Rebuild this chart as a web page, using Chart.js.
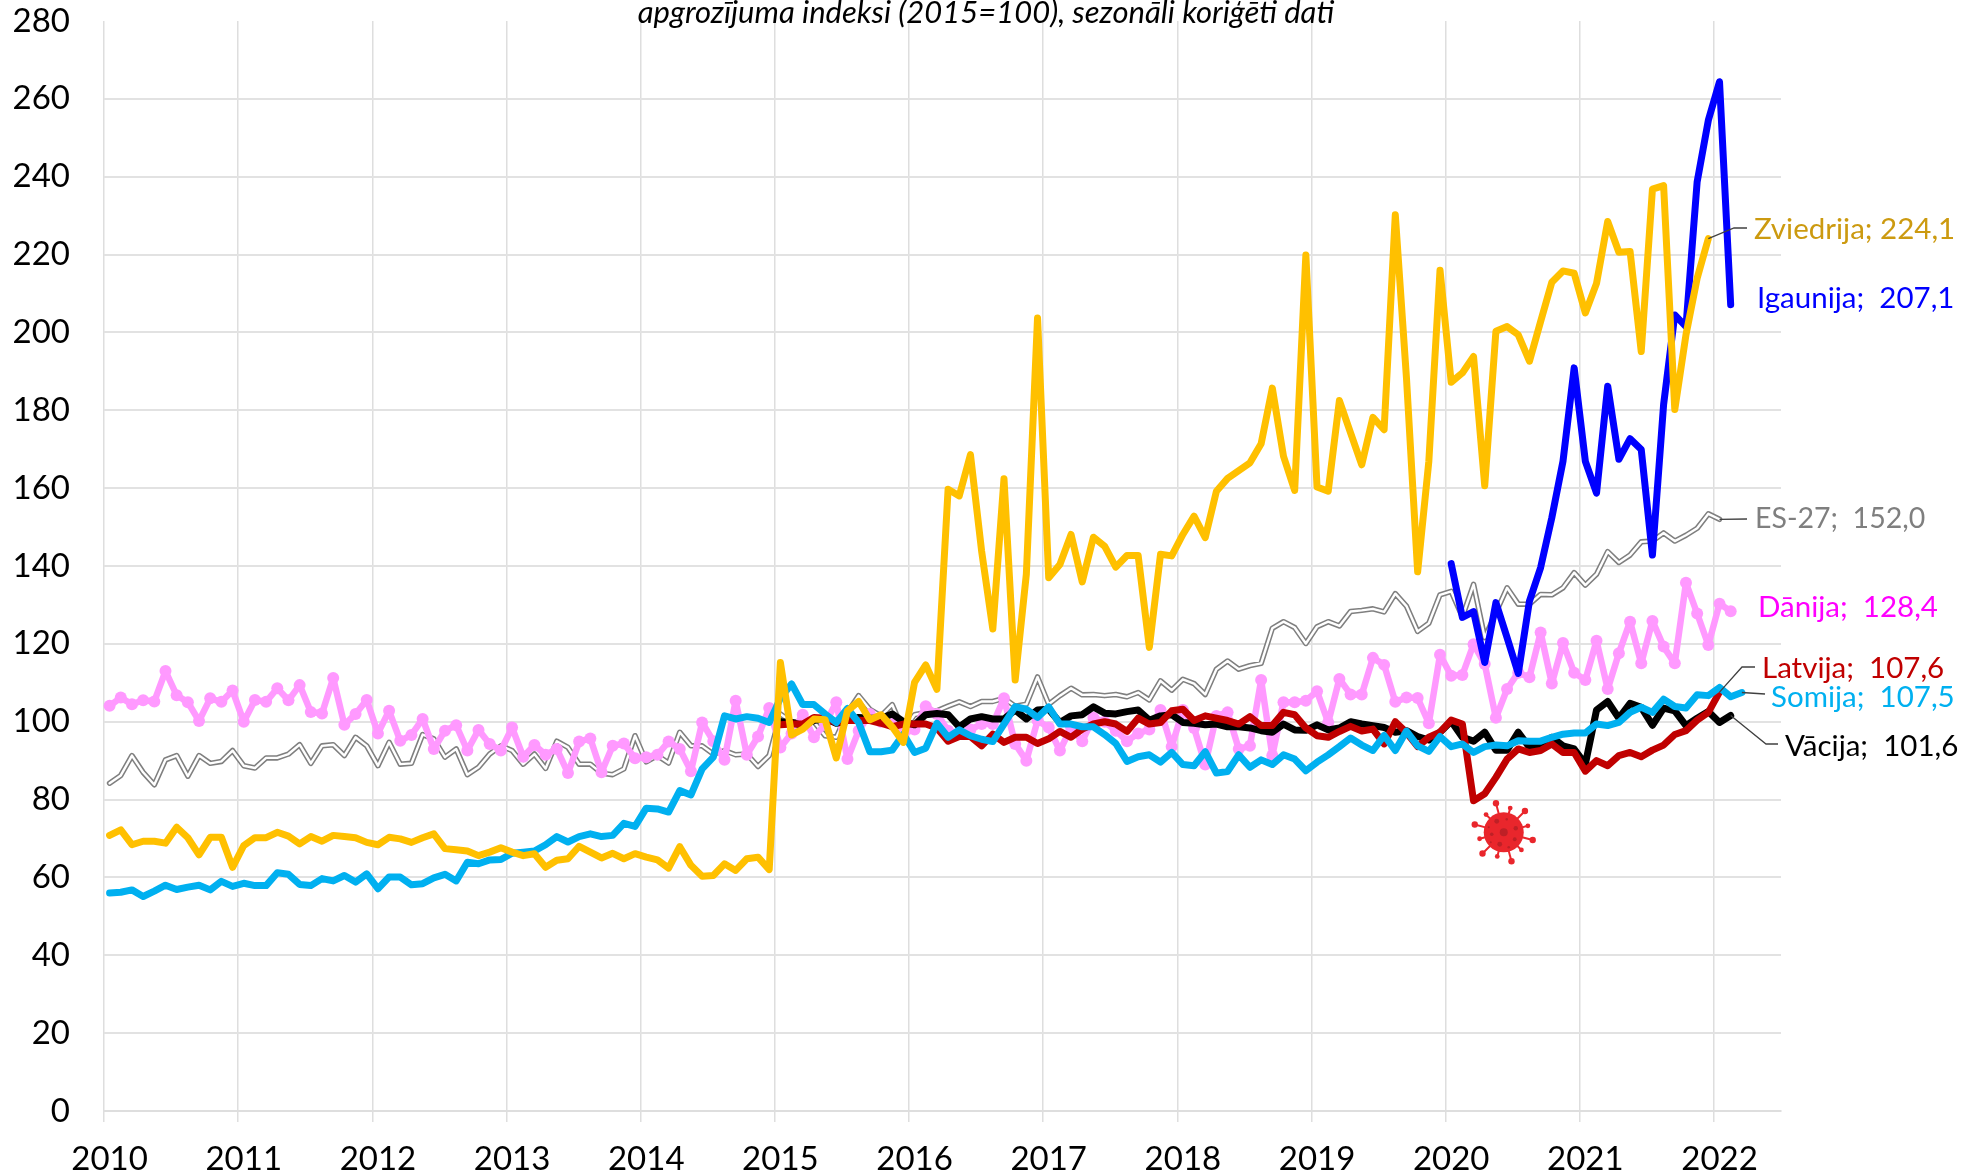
<!DOCTYPE html>
<html>
<head>
<meta charset="utf-8">
<title>Apgrozījuma indeksi</title>
<script src="https://cdn.jsdelivr.net/npm/chart.js@4"></script>
<style>
  html, body { margin: 0; padding: 0; background: #fff; }
  canvas { display: block; }
</style>
</head>
<body>
<canvas id="myChart" width="1965" height="1175"></canvas>
<script>
// Gadi uz x ass (katrs gads = 12 mēneši)
const years = [2010, 2011, 2012, 2013, 2014, 2015, 2016, 2017, 2018, 2019, 2020, 2021, 2022];
const yTicks = [0, 20, 40, 60, 80, 100, 120, 140, 160, 180, 200, 220, 240, 260, 280];

// Mēneša indeksi, sākot ar 2010. gada janvāri
const es27 = [
  84.2, 86.2, 91.3, 87, 83.8, 90.2, 91.3, 86, 91.3, 89.3, 89.8, 92.6,
  88.7, 88.1, 90.7, 90.7, 91.7, 94.1, 89.3, 93.8, 94.1, 91.3, 96, 93.8,
  88.7, 94.7, 89.1, 89.3, 96.7, 95.6, 90.9, 93, 86.4, 88.3, 91.7, 93.8,
  92.6, 89.1, 91.7, 88, 95, 93.4, 89.1, 89.1, 86.8, 86.4, 87.9, 96.4,
  89.7, 91.3, 89.4, 97.3, 93.8, 93.8, 91.7, 92.6, 91.5, 91.7, 88.5, 91.3,
  102, 100, 100, 100, 96.4, 96, 102.4, 106.7, 103.2, 101.5, 104.4, 97.7,
  101.8, 102.4, 102.8, 104, 105.1, 103.9, 105.2, 105.2, 106, 104, 104.5, 111.5,
  104.5, 106.7, 108.6, 106.9, 107, 106.7, 107, 106.4, 107.5, 105.6, 110.5, 108.1,
  110.9, 109.8, 107, 113.5, 115.6, 113.5, 114.4, 115, 124, 125.7, 124.2, 120.1,
  124.4, 125.7, 124.6, 128.3, 128.6, 129, 128.2, 132.9, 129.7, 123.2, 125.3, 132.6,
  133.5, 126.9, 135.3, 121.6, 128, 134.4, 130.2, 130.2, 132.7, 132.6, 134.4, 138.3,
  135.1, 137.9, 143.7, 140.9, 142.8, 146.2, 146.4, 148.5, 146.4, 147.9, 149.7, 153.4,
  152
];
const dania = [
  104.1, 106.2, 104.5, 105.5, 105.2, 113, 106.8, 105, 100.2, 106, 105.1, 108,
  100, 105.6, 105.1, 108.6, 105.5, 109.4, 102.5, 102.1, 111.2, 99.2, 102, 105.6,
  97, 102.8, 95.1, 96.6, 100.7, 93, 97.7, 99.1, 92.6, 97.9, 94.3, 92.6,
  98.5, 91, 94, 91.5, 93, 86.8, 94.9, 95.7, 87, 93.8, 94.4, 90.6,
  90.9, 91.5, 94.9, 93, 87.3, 99.8, 95, 90.2, 105.4, 91.5, 96.2, 103.5,
  93.4, 97, 101.8, 96, 99.4, 105, 90.4, 97.7, 102, 100, 99.4, 97,
  98, 104, 102, 97.7, 97, 98, 99.4, 99.4, 106, 94.3, 90, 100.3,
  98.5, 92.6, 98.5, 95, 101, 100, 97.7, 95, 97, 98, 103, 93.6,
  103, 98.4, 89, 101.5, 102.4, 93, 93.8, 110.7, 91.3, 105, 105, 105.4,
  107.8, 99.8, 111, 107, 107, 116.4, 114.6, 105.1, 106.2, 106.1, 99.6, 117.2,
  111.8, 112, 119.9, 114.8, 101, 108.4, 112.6, 111.4, 122.9, 109.8, 120.2, 112.6,
  110.7, 120.8, 108.4, 117.6, 125.7, 115, 125.9, 119.3, 115, 135.7, 127.8, 119.7,
  130.3, 128.4
];
// Vācija un Latvija sākas 2015. gada janvārī
const vacijaStart = 60;
const vacija = [
  100, 99.8, 99, 100.3, 100.9, 99.6, 100.3, 101.1, 100.9, 100.9, 102, 100,
  99.2, 101.8, 102.1, 101.8, 98.7, 100.7, 101.3, 100.7, 100.7, 103, 100.7, 103,
  103.2, 99.8, 101.5, 101.8, 103.8, 102.2, 102, 102.6, 103, 100.4, 101.5, 101.8,
  99.8, 99.6, 99.2, 99.4, 98.7, 98.7, 98.4, 97.7, 97.3, 99.4, 97.9, 97.8,
  99.2, 97.9, 98.4, 100, 99.4, 99, 98.5, 97.3, 97.7, 96.2, 95.3, 97.3,
  100.1, 96, 95, 97.3, 92.7, 92.7, 97.3, 93.4, 93.8, 96, 93.8, 93,
  89.1, 103, 105.2, 100.9, 104.7, 103.7, 99.1, 103.5, 102.8, 99, 100.9, 102.6,
  99.8, 101.6
];
const latvijaStart = 60;
const latvija = [
  99.2, 99.4, 99.4, 101.1, 100.9, 99.8, 100.3, 100.4, 100.3, 99.6, 98.7, 99.4,
  99.4, 99.4, 98.4, 95, 96.2, 96.2, 93.8, 96.8, 94.7, 96, 96, 94.4,
  95.6, 97.5, 96, 98.1, 99.4, 100, 99.4, 97.5, 100.9, 99.4, 99.8, 102.8,
  103.2, 100.3, 101.5, 100.9, 100.3, 99.4, 101.3, 99, 99, 102.4, 101.8, 98.4,
  96.4, 96, 97.5, 98.8, 97.6, 98.1, 94.3, 100, 97.2, 93.6, 96, 97.3,
  100.4, 99.4, 79.7, 81.5, 85.7, 90.4, 93, 92.1, 92.6, 94.3, 92.1, 92.1,
  87.3, 90, 88.7, 91.3, 92.1, 91, 92.7, 94, 96.7, 97.7, 100.4, 102.4,
  107.6
];
const somija = [
  56, 56.2, 56.8, 55.1, 56.5, 58, 56.9, 57.5, 58, 56.8, 59, 57.7,
  58.5, 57.9, 57.9, 61.2, 60.8, 58.2, 57.9, 59.7, 59.1, 60.5, 58.8, 60.9,
  57.1, 60.1, 60.1, 58.1, 58.4, 59.9, 60.8, 59.1, 63.9, 63.5, 64.5, 64.6,
  66.2, 66.5, 66.8, 68.4, 70.5, 69.1, 70.5, 71.2, 70.5, 70.8, 73.9, 73.1,
  77.8, 77.6, 76.8, 82.3, 81.2, 87.9, 90.9, 101.5, 100.7, 101.3, 100.9, 99.8,
  106, 109.7, 104.4, 104.4, 102, 99.8, 103.4, 99.8, 92.3, 92.3, 92.7, 96.8,
  92.1, 93.2, 99.6, 96, 97.9, 96.4, 95.5, 94.9, 99.4, 103.9, 103.2, 101.1,
  103.8, 99.4, 99.4, 98.7, 98.7, 96.7, 94.4, 89.8, 91, 91.5, 89.6, 92.1,
  89, 88.7, 92.3, 86.8, 87.2, 91.5, 88.3, 90.2, 89, 91.5, 90.4, 87.4,
  89.6, 91.5, 93.6, 95.8, 94, 92.6, 96.5, 92.6, 97.6, 93.8, 92.4, 96.2,
  93.6, 94.3, 92.1, 93.6, 94, 93.8, 95.1, 95, 95, 96, 96.8, 97.1,
  97.1, 99.4, 99, 99.8, 102.4, 103.7, 102.4, 105.8, 103.9, 103.5, 106.9, 106.7,
  108.8, 106.4, 107.5
];
// Igaunija sākas 2020. gada janvārī
const igaunijaStart = 120;
const igaunija = [
  140.6, 126.8, 128.3, 115.2, 130.6, 121.6, 112.4, 131, 139.6, 152.4, 166.9, 190.9,
  166.9, 158.7, 186.2, 167.4, 172.7, 169.9, 142.8, 181.5, 204.5, 201.5, 238.7, 254.5,
  264.4, 207.1
];
const zviedrija = [
  70.8, 72.2, 68.4, 69.3, 69.3, 68.8, 72.9, 70.2, 65.8, 70.3, 70.3, 62.6,
  68.2, 70.2, 70.2, 71.6, 70.6, 68.6, 70.5, 69.3, 70.8, 70.5, 70.2, 69,
  68.4, 70.3, 69.9, 69, 70.2, 71.2, 67.4, 67.1, 66.8, 65.6, 66.5, 67.6,
  66.5, 65.6, 66.1, 62.6, 64.4, 64.8, 68, 66.5, 65, 66.2, 64.8, 66.1,
  65.2, 64.5, 62.4, 67.9, 63.1, 60.3, 60.5, 63.5, 61.8, 64.8, 65.2, 62,
  115.2, 96.6, 98.1, 100.7, 100.5, 90.7, 102.8, 105.2, 100.5, 101.8, 98.7, 94.7,
  110.1, 114.6, 108.3, 159.7, 158, 168.6, 143.8, 123.8, 162.4, 110.7, 137.9, 203.7,
  137, 140.4, 148.1, 135.9, 147.4, 145.1, 139.7, 142.7, 142.7, 119.1, 143, 142.6,
  148.1, 152.8, 147.3, 159.2, 162.5, 164.5, 166.5, 171.4, 185.7, 168.2, 159.4, 219.9,
  160.3, 159.2, 182.5, 174.2, 166, 178.2, 175, 230.2, 188.3, 138.5, 166.9, 216,
  187.2, 189.6, 193.8, 160.6, 200.3, 201.5, 199.4, 192.6, 202.8, 212.9, 215.8, 215.2,
  205, 212.6, 228.5, 220.6, 220.8, 195.1, 236.8, 237.7, 180.2, 199.4, 213.9, 224.1
];

// Pārvērš sēriju par {x, y} punktiem; punkts atrodas mēneša vidū
function toPoints(values, start = 0) {
  return values.map((v, i) => ({ x: start + i + 0.5, y: v }));
}

function lineSet(label, values, color, width, start = 0, extra = {}) {
  return Object.assign({
    label: label,
    data: toPoints(values, start),
    borderColor: color,
    backgroundColor: color,
    borderWidth: width,
    pointRadius: 0,
    tension: 0,
    borderJoinStyle: 'round',
    borderCapStyle: 'round',
    clip: false
  }, extra);
}

// Paraksti pie līniju galiem: tx/ty ir teksta kreisā mala un vidus, leader - līnijas lauzuma punkti
const endLabels = [
  { text: 'Zviedrija; 224,1', color: '#CC9A10', size: 29.5, tx: 1754, ty: 229, values: zviedrija, start: 0, leader: [[1734, 228], [1747, 228]] },
  { text: 'Igaunija;  207,1', color: '#0000FF', size: 29.5, tx: 1757, ty: 298 },
  { text: 'ES-27;  152,0', color: '#7F7F7F', size: 28.5, tx: 1755, ty: 519, values: es27, start: 0, leader: [[1747, 519]] },
  { text: 'Dānija;  128,4', color: '#FF00FF', size: 29.5, tx: 1758, ty: 607 },
  { text: 'Latvija;  107,6', color: '#C00000', size: 29.5, tx: 1762, ty: 668, values: latvija, start: latvijaStart, leader: [[1742, 667], [1755, 667]] },
  { text: 'Somija;  107,5', color: '#00B0F0', size: 29.5, tx: 1771, ty: 697, values: somija, start: 0, leader: [[1765, 694]] },
  { text: 'Vācija;  101,6', color: '#000000', size: 29.5, tx: 1785, ty: 746, values: vacija, start: vacijaStart, leader: [[1766, 744], [1778, 744]] }
];

// Vīrusa attēls (2020. gada vidū, zem Latvijas līnijas)
function drawVirus(ctx, cx, cy) {
  const red = '#E9262C', dark = '#BE2026';
  ctx.save();
  ctx.translate(cx, cy);
  ctx.strokeStyle = red;
  ctx.fillStyle = red;
  const spikes = [0, 30, 60, 90, 120, 150, 180, 210, 240, 270, 300, 330];
  spikes.forEach((deg, i) => {
    const a = (deg + 15) * Math.PI / 180;
    const len = i % 2 ? 25 : 30;
    const head = i % 2 ? 2.4 : 3.2;
    ctx.lineWidth = 2;
    ctx.beginPath();
    ctx.moveTo(Math.cos(a) * 18, Math.sin(a) * 18);
    ctx.lineTo(Math.cos(a) * len, Math.sin(a) * len);
    ctx.stroke();
    ctx.beginPath();
    ctx.arc(Math.cos(a) * len, Math.sin(a) * len, head, 0, Math.PI * 2);
    ctx.fill();
  });
  ctx.beginPath();
  ctx.arc(0, 0, 20, 0, Math.PI * 2);
  ctx.fill();
  ctx.fillStyle = dark;
  [[0, 0, 4], [-7, -11, 2.4], [12, -4, 2.2], [-12, 2, 1.8], [-4, 12, 2.4], [11, 7, 1.9], [3, -13, 1.2], [5, 15, 1.3], [-13, 10, 1], [-15, -5, 1]]
    .forEach(s => {
      ctx.beginPath();
      ctx.arc(s[0], s[1], s[2], 0, Math.PI * 2);
      ctx.fill();
    });
  ctx.restore();
}

// Virsraksts, paraksti, vadlīnijas un vīruss
const annotations = {
  id: 'annotations',
  afterDatasetsDraw(chart) {
    const { ctx, scales } = chart;
    ctx.save();
    ctx.textBaseline = 'middle';
    ctx.textAlign = 'left';
    endLabels.forEach(l => {
      if (l.leader) {
        const lastIndex = l.values.length - 1;
        ctx.strokeStyle = '#404040';
        ctx.lineWidth = 1.3;
        ctx.beginPath();
        ctx.moveTo(scales.x.getPixelForValue(l.start + lastIndex + 0.5), scales.y.getPixelForValue(l.values[lastIndex]));
        l.leader.forEach(p => ctx.lineTo(p[0], p[1]));
        ctx.stroke();
      }
      ctx.font = l.size + 'px Lato';
      ctx.fillStyle = l.color;
      ctx.fillText(l.text, l.tx, l.ty);
    });
    ctx.fillStyle = '#000';
    ctx.textAlign = 'center';
    ctx.font = 'italic 31px Lato';
    ctx.fillText('apgrozījuma indeksi (2015=100), sezonāli koriģēti dati', 986, 13);
    ctx.restore();
    drawVirus(ctx, scales.x.getPixelForValue(125.2), scales.y.getPixelForValue(71.6));
  }
};

function createChart(ctx) {
  return new Chart(ctx, {
    type: 'line',
    data: {
      // Chart.js zīmē pirmo datu kopu pēdējo, tāpēc Zviedrija ir augšā
      datasets: [
        lineSet('Zviedrija', zviedrija, '#FFC000', 7),
        lineSet('Igaunija', igaunija, '#0000FF', 7, igaunijaStart),
        lineSet('Somija', somija, '#00B0F0', 7),
        lineSet('Latvija', latvija, '#C00000', 7, latvijaStart),
        lineSet('Vācija', vacija, '#000000', 7, vacijaStart),
        lineSet('Dānija', dania, '#FF99FF', 6.5, 0, { pointRadius: 6, pointBackgroundColor: '#FF99FF', pointBorderWidth: 0 }),
        lineSet('ES-27 (iekšējā)', es27, '#FFFFFF', 2.4),
        lineSet('ES-27', es27, '#7F7F7F', 5.5)
      ]
    },
    options: {
      responsive: false,
      animation: false,
      events: [],
      layout: { padding: { top: 21, right: 184, left: 0, bottom: 0 } },
      plugins: { legend: { display: false }, tooltip: { enabled: false } },
      scales: {
        x: {
          type: 'linear',
          min: 0,
          max: 150,
          afterBuildTicks(axis) {
            axis.ticks = years.map((y, i) => ({ value: i * 12 }));
          },
          afterFit(axis) {
            axis.height = 64;
            axis.paddingLeft = 0;
            axis.paddingRight = 0;
          },
          border: { display: true, color: '#DEDEDE', width: 2 },
          grid: { color: '#DEDEDE', lineWidth: 1.5, tickLength: 11, tickColor: '#DEDEDE' },
          ticks: {
            autoSkip: false,
            maxRotation: 0,
            padding: 18,
            labelOffset: 5.6,
            color: '#000',
            font: { family: 'Lato', size: 33 },
            callback: value => years[value / 12]
          }
        },
        y: {
          min: 0,
          max: 280,
          afterBuildTicks(axis) {
            axis.ticks = yTicks.map(v => ({ value: v }));
          },
          afterFit(axis) {
            axis.width = 104;
            axis.paddingTop = 0;
            axis.paddingBottom = 0;
          },
          border: { display: false },
          grid: {
            color: ctx => ctx.tick.value === 280 ? 'transparent' : '#E2E2E2',
            lineWidth: 2,
            drawTicks: false
          },
          ticks: {
            padding: 34,
            color: '#000',
            font: { family: 'Lato', size: 33 }
          }
        }
      }
    },
    plugins: [annotations]
  });
}

window.addEventListener('DOMContentLoaded', () => {
  createChart(document.getElementById('myChart').getContext('2d'));
});
</script>
</body>
</html>
